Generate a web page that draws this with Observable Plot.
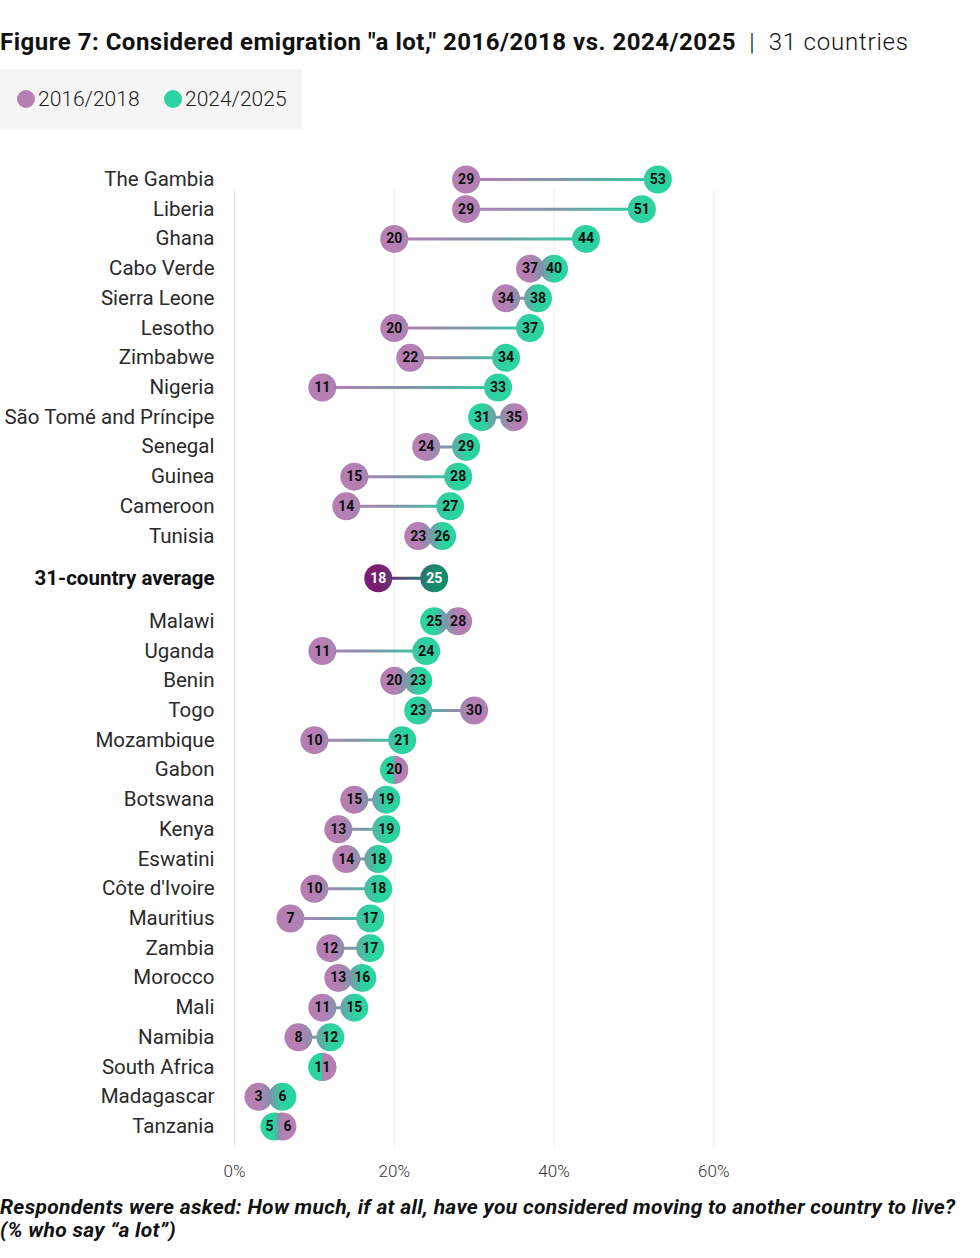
<!DOCTYPE html>
<html>
<head>
<meta charset="utf-8">
<script src="https://cdn.jsdelivr.net/npm/d3@7"></script>
<script src="https://cdn.jsdelivr.net/npm/@observablehq/plot@0.6"></script>
<style>
  body { margin: 0; background: #fff; font-family: Roboto, "Noto Sans", sans-serif; color: #111; width: 980px; height: 1258px; position: relative; overflow: hidden; }
  #title { position: absolute; left: 0; top: 28px; font-size: 24px; line-height: 28px; letter-spacing: 0.5px; white-space: nowrap; color: #111; }
  #title b { font-weight: 700; }
  #title .light { font-weight: 300; letter-spacing: 0.8px; }
  #legend { position: absolute; left: 0; top: 69px; width: 302px; height: 60px; background: #f5f5f5; }
  #legend .item { position: absolute; top: 0; height: 60px; display: flex; align-items: center; font-size: 21px; font-weight: 300; color: #222; }
  #legend .sw { width: 18px; height: 18px; border-radius: 50%; margin-right: 3px; }
  #chart { position: absolute; left: 0; top: 140px; }
  #caption { position: absolute; left: 0; top: 1196px; font-size: 21px; line-height: 23px; letter-spacing: 0.3px; font-weight: 700; font-style: italic; color: #111; white-space: nowrap; }
</style>
</head>
<body>
<div id="title"><b>Figure 7: Considered emigration "a lot," 2016/2018 vs. 2024/2025</b><span class="light"> &nbsp;|&nbsp; 31 countries</span></div>
<div id="legend"></div>
<div id="chart"></div>
<div id="caption">Respondents were asked: How much, if at all, have you considered moving to another country to live?<br>(% who say “a lot”)</div>
<script>
// ---- data ----
const seriesNames = ["2016/2018", "2024/2025"];
const topCountries = ["The Gambia", "Liberia", "Ghana", "Cabo Verde", "Sierra Leone", "Lesotho", "Zimbabwe", "Nigeria", "São Tomé and Príncipe", "Senegal", "Guinea", "Cameroon", "Tunisia"];
const top2016 = [29, 29, 20, 37, 34, 20, 22, 11, 35, 24, 15, 14, 23];
const top2024 = [53, 51, 44, 40, 38, 37, 34, 33, 31, 29, 28, 27, 26];
const averageLabel = "31-country average";
const average2016 = 18;
const average2024 = 25;
const bottomCountries = ["Malawi", "Uganda", "Benin", "Togo", "Mozambique", "Gabon", "Botswana", "Kenya", "Eswatini", "Côte d'Ivoire", "Mauritius", "Zambia", "Morocco", "Mali", "Namibia", "South Africa", "Madagascar", "Tanzania"];
const bottom2016 = [28, 11, 20, 30, 10, 20, 15, 13, 14, 10, 7, 12, 13, 11, 8, 11, 3, 6];
const bottom2024 = [25, 24, 23, 23, 21, 20, 19, 19, 18, 18, 17, 17, 16, 15, 12, 11, 6, 5];
const xTicks = [0, 20, 40, 60];

// ---- colours ----
const purple = "#b67fb4", green = "#2bd3a1", midLight = "#7f95a9";
const darkPurple = "#7b1c70", darkGreen = "#168b6b", midDark = "#4d5677";

// ---- legend ----
const legend = d3.select("#legend");
[[purple, 17], [green, 164]].forEach(([c, left], i) => {
  const it = legend.append("div").attr("class", "item").style("left", left + "px");
  it.append("div").attr("class", "sw").style("background", c);
  it.append("span").text(seriesNames[i]);
});

// ---- rows (layout position computed, with extra gap around the average) ----
const gapBefore = 1.42, gapAfter = 1.45;
const rows = [];
topCountries.forEach((name, i) => rows.push({name, v2016: top2016[i], v2024: top2024[i], pos: i, avg: false}));
const avgPos = topCountries.length - 1 + gapBefore;
rows.push({name: averageLabel, v2016: average2016, v2024: average2024, pos: avgPos, avg: true});
bottomCountries.forEach((name, i) => rows.push({name, v2016: bottom2016[i], v2024: bottom2024[i], pos: avgPos + gapAfter + i, avg: false}));
const lastPos = rows[rows.length - 1].pos;

// value labels: left / right member of each pair; nudge apart when the two are nearly coincident
const labels = [];
rows.forEach(d => {
  const lo = Math.min(d.v2016, d.v2024), hi = Math.max(d.v2016, d.v2024);
  const close = hi - lo > 0 && hi - lo < 2;
  labels.push({v: lo, pos: d.pos, avg: d.avg, nudge: close ? -1 : 0});
  if (hi !== lo) labels.push({v: hi, pos: d.pos, avg: d.avg, nudge: close ? 1 : 0});
});
const labelMark = (filter, dx, fill) => Plot.text(labels.filter(filter), {x: "v", y: "pos", text: d => String(d.v), dx, fontSize: 14, fontWeight: 700, fill});

const normal = rows.filter(d => !d.avg);
const avgRows = rows.filter(d => d.avg);

const chart = Plot.plot({
  width: 980,
  height: 1047,
  marginLeft: 234,
  marginRight: 107,
  marginTop: 48,
  marginBottom: 40,
  style: {fontFamily: "Roboto, 'Noto Sans', sans-serif", background: "transparent", overflow: "visible"},
  x: {domain: [0, 80], axis: null},
  y: {domain: [0, lastPos], range: [39, 986], axis: null},
  marks: [
    Plot.ruleX(xTicks, {stroke: "#ebebeb", strokeWidth: 1}),
    Plot.axisX({ticks: xTicks, tickFormat: d => d + "%", tickSize: 0, tickPadding: 17, fontSize: 17, fontWeight: 300, fill: "#333", anchor: "bottom"}),
    Plot.link(rows, {x1: "v2016", x2: "v2024", y1: "pos", y2: "pos", stroke: purple, strokeWidth: 3}),
    Plot.dot(rows, {x: "v2016", y: "pos", r: 14, fill: purple}),
    Plot.dot(rows, {x: "v2024", y: "pos", r: 14, fill: green}),
    labelMark(d => !d.avg && d.nudge === 0, 0, "#111"),
    labelMark(d => !d.avg && d.nudge < 0, -5, "#111"),
    labelMark(d => !d.avg && d.nudge > 0, 5, "#111"),
    labelMark(d => d.avg, 0, "#fff"),
    Plot.text(normal, {y: "pos", text: "name", frameAnchor: "left", textAnchor: "end", dx: -20, fontSize: 20.5, fill: "#2a2a2a"}),
    Plot.text(avgRows, {y: "pos", text: "name", frameAnchor: "left", textAnchor: "end", dx: -20, fontSize: 20.5, fontWeight: 700, fill: "#111"})
  ]
});

document.getElementById("chart").appendChild(chart);

// ---- gradients (purple → green per row, computed through the x scale) ----
const xs = chart.scale("x");
const svg = d3.select(chart);
const defs = svg.insert("defs", ":first-child");
rows.forEach((d, i) => {
  let xa = xs.apply(d.v2016), xb = xs.apply(d.v2024);
  if (Math.abs(xa - xb) < 0.01) { xa += 0.5; xb -= 0.5; }
  const g = defs.append("linearGradient").attr("id", "rowgrad-" + i)
    .attr("gradientUnits", "userSpaceOnUse")
    .attr("x1", xa).attr("x2", xb).attr("y1", 0).attr("y2", 0);
  g.append("stop").attr("offset", 0).attr("stop-color", d.avg ? darkPurple : purple);
  g.append("stop").attr("offset", 0.5).attr("stop-color", d.avg ? midDark : midLight);
  g.append("stop").attr("offset", 1).attr("stop-color", d.avg ? darkGreen : green);
});
svg.selectAll('g[aria-label="link"] path').attr("stroke", (_, i) => `url(#rowgrad-${i})`);
svg.selectAll('g[aria-label="dot"]').each(function () {
  d3.select(this).selectAll("circle").attr("fill", (_, i) => `url(#rowgrad-${i})`);
});
</script>
</body>
</html>
